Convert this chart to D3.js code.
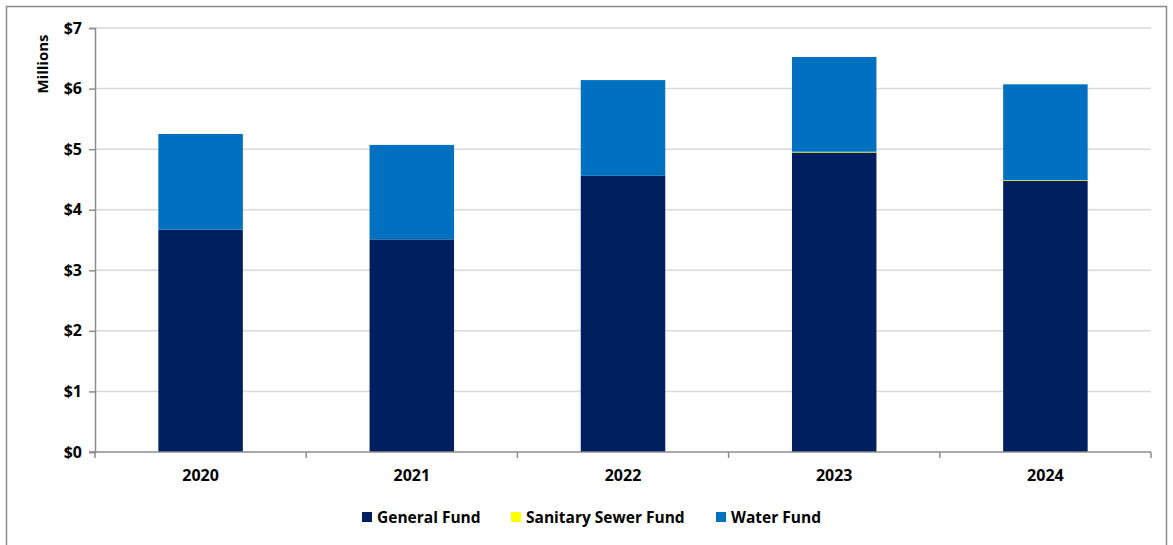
<!DOCTYPE html>
<html>
<head>
<meta charset="utf-8">
<script src="https://d3js.org/d3.v7.min.js"></script>
<style>
body {margin: 0; background: #fff;}
text {font-family: "Open Sans", "Noto Sans", sans-serif; font-weight: bold; fill: #000;}
</style>
</head>
<body>
<svg width="1173" height="545"></svg>
<script>
// chart data (millions of dollars)
var years = ["2020", "2021", "2022", "2023", "2024"];
var generalFund = [3.67, 3.51, 4.56, 4.945, 4.48];
var sewerFund = [0, 0, 0, 0.012, 0.01];
var waterFund = [1.58, 1.56, 1.58, 1.565, 1.58];
var yTicks = [0, 1, 2, 3, 4, 5, 6, 7];
var seriesNames = ["General Fund", "Sanitary Sewer Fund", "Water Fund"];
var seriesColors = ["#001f5f", "#ffff00", "#0070c0"];

var svg = d3.select("svg");

// outer frame
svg.append("rect")
  .attr("x", 6.5).attr("y", 6.5)
  .attr("width", 1160).attr("height", 545)
  .attr("fill", "none").attr("stroke", "#8c8c8c").attr("stroke-width", 1.5);

var plotL = 95, plotR = 1151, plotT = 28, plotB = 452;

var x = d3.scaleBand().domain(years).range([plotL, plotR]).paddingInner(0.6).paddingOuter(0.3);
var xb = d3.scaleBand().domain(years).range([plotL, plotR]);
var y = d3.scaleLinear().domain([0, 7]).range([plotB, plotT]);

// gridlines
svg.append("g").selectAll("line")
  .data(yTicks.filter(function(d) {return d > 0;}))
  .enter().append("line")
  .attr("x1", plotL).attr("x2", plotR)
  .attr("y1", function(d) {return y(d);})
  .attr("y2", function(d) {return y(d);})
  .attr("stroke", "#d9d9d9").attr("stroke-width", 1.5);

// stacked bars
var table = years.map(function(yr, i) {
  return {year: yr, general: generalFund[i], sewer: sewerFund[i], water: waterFund[i]};
});
var stack = d3.stack().keys(["general", "sewer", "water"]);
var layers = stack(table);

svg.append("g").selectAll("g")
  .data(layers)
  .enter().append("g")
  .attr("fill", function(d, i) {return seriesColors[i];})
  .selectAll("rect")
  .data(function(d) {return d;})
  .enter().append("rect")
  .attr("x", function(d) {return x(d.data.year);})
  .attr("width", x.bandwidth())
  .attr("y", function(d) {return y(d[1]);})
  .attr("height", function(d) {return Math.max(0, y(d[0]) - y(d[1]));});

// y axis
var yAxis = svg.append("g")
  .attr("transform", "translate(" + plotL + ",0)")
  .call(d3.axisLeft(y).tickValues(yTicks).tickSize(6).tickPadding(7)
    .tickFormat(function(d) {return "$" + d;}));
yAxis.select(".domain").attr("stroke", "#8c8c8c").attr("stroke-width", 1.5);
yAxis.selectAll(".tick line").attr("stroke", "#8c8c8c").attr("stroke-width", 1.5);
yAxis.selectAll("text").style("font-size", "16px");

// x axis
var xAxis = svg.append("g")
  .attr("transform", "translate(0," + plotB + ")")
  .call(d3.axisBottom(x).tickSize(0).tickPadding(18));
xAxis.select(".domain").remove();
xAxis.selectAll("text").style("font-size", "16px");
svg.append("line")
  .attr("x1", plotL - 6).attr("x2", plotR)
  .attr("y1", plotB).attr("y2", plotB)
  .attr("stroke", "#8c8c8c").attr("stroke-width", 1.5);
svg.append("g").selectAll("line")
  .data(years.concat(["end"]))
  .enter().append("line")
  .attr("x1", function(d, i) {return i < years.length ? xb(d) : plotR;})
  .attr("x2", function(d, i) {return i < years.length ? xb(d) : plotR;})
  .attr("y1", plotB).attr("y2", plotB + 6)
  .attr("stroke", "#8c8c8c").attr("stroke-width", 1.5);

// y axis title
svg.append("text")
  .attr("transform", "translate(48," + (plotT + 36) + ") rotate(-90)")
  .attr("text-anchor", "middle")
  .style("font-size", "15px")
  .text("Millions");

// legend
var legendX = [362, 511, 716];
var legend = svg.append("g").selectAll("g")
  .data(seriesNames)
  .enter().append("g")
  .attr("transform", function(d, i) {return "translate(" + legendX[i] + ",512)";});
legend.append("rect")
  .attr("width", 10).attr("height", 10)
  .attr("fill", function(d, i) {return seriesColors[i];});
legend.append("text")
  .attr("x", 15).attr("y", 11)
  .style("font-size", "15.5px")
  .text(function(d) {return d;});
</script>
</body>
</html>
